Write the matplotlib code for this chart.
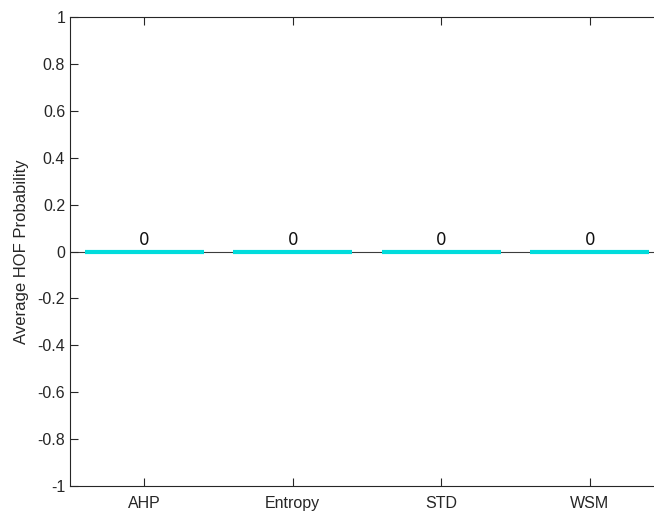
import numpy as np
import matplotlib.pyplot as plt

categories = ['AHP', 'Entropy', 'STD', 'WSM']
values = [0, 0, 0, 0]
yticks = [-1, -0.8, -0.6, -0.4, -0.2, 0, 0.2, 0.4, 0.6, 0.8, 1]

plt.rcParams['font.family'] = ['Liberation Sans', 'DejaVu Sans']

fig = plt.figure(figsize=(6.54, 5.12), dpi=100)
ax = fig.add_axes([70/654, 26/512, 594/654, 469/512])

x = np.arange(1, len(categories) + 1)
ax.axhline(0, color='#3c3c3c', lw=0.8, zorder=1)
bars = ax.bar(x, values, width=0.8, color='#00dcdc', edgecolor='#00dcdc', linewidth=3, zorder=2)

for xi, v in zip(x, values):
    ax.text(xi, v + 0.012, f'{v:g}', ha='center', va='bottom', fontsize=12,
            family='DejaVu Sans', color='#111111')

ax.set_xlim(0.5, 4.5)
ax.set_ylim(-1, 1)
ax.set_xticks(x)
ax.set_xticklabels(categories)
ax.set_yticks(yticks)
ax.set_yticklabels([f'{t:g}' for t in yticks])
ax.set_ylabel('Average HOF Probability', fontsize=12, color='#262626', labelpad=6)
ax.tick_params(direction='in', length=6, width=0.8, labelsize=11.5, colors='#262626',
               top=True, right=False)
ax.tick_params(axis='x', pad=7)
for s in ax.spines.values():
    s.set_color('#262626')
    s.set_linewidth(0.8)
ax.spines['right'].set_visible(False)

fig.savefig('out.png', dpi=100)
